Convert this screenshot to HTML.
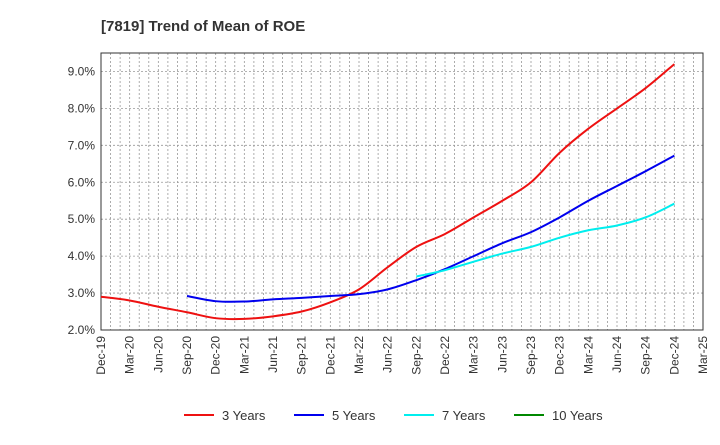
<!DOCTYPE html>
<html><head><meta charset="utf-8"><style>
body{margin:0;background:#fff;font-family:"Liberation Sans",sans-serif}
</style></head><body>
<svg id="c" width="720" height="440" xmlns="http://www.w3.org/2000/svg">
<text x="101" y="31" font-size="15" font-weight="bold" fill="#333">[7819]  Trend of Mean of ROE</text>
</svg>
<script>
const categories=["Dec-19","Mar-20","Jun-20","Sep-20","Dec-20","Mar-21","Jun-21","Sep-21","Dec-21","Mar-22","Jun-22","Sep-22","Dec-22","Mar-23","Jun-23","Sep-23","Dec-23","Mar-24","Jun-24","Sep-24","Dec-24","Mar-25"];
const yTicks=[2,3,4,5,6,7,8,9];
const s3=[2.9,2.8,2.63,2.48,2.32,2.3,2.37,2.5,2.75,3.1,3.7,4.25,4.6,5.05,5.5,6.0,6.8,7.45,8.0,8.55,9.2];
const s5=[null,null,null,2.92,2.78,2.77,2.83,2.87,2.92,2.97,3.1,3.35,3.65,4.0,4.35,4.65,5.05,5.5,5.9,6.3,6.72];
const s7=[null,null,null,null,null,null,null,null,null,null,null,3.45,3.62,3.85,4.07,4.25,4.5,4.7,4.83,5.05,5.42];
const s10=[];
const seriesNames=["3 Years","5 Years","7 Years","10 Years"];
const colors=["#ee1111","#0000ee","#00eeee","#008800"];
const NS="http://www.w3.org/2000/svg";
const svg=document.getElementById('c');
const L=101,R=703,T=53,B=330,yMin=2,yMax=9.5;
const xs=i=>L+(R-L)*i/(categories.length-1);
const ys=v=>B-(B-T)*(v-yMin)/(yMax-yMin);
function el(t,a){const e=document.createElementNS(NS,t);for(const k in a)e.setAttribute(k,a[k]);svg.appendChild(e);return e;}
const bg=el('rect',{x:L,y:T,width:R-L,height:B-T,fill:'#fff'});


for(let m=0;m<=(categories.length-1)*3;m++){
  const x=L+(R-L)*m/((categories.length-1)*3);
  const g=el('line',{x1:x,x2:x,y1:T,y2:B,stroke:'#999','stroke-width':0.8,'stroke-dasharray':'2,2'});
  
  
}
yTicks.forEach(v=>{
  const g=el('line',{x1:L,x2:R,y1:ys(v),y2:ys(v),stroke:'#999','stroke-width':0.8,'stroke-dasharray':'2,2'});
  
  
});
yTicks.forEach(v=>{
  const t=el('text',{x:L-6,y:ys(v)+4,'text-anchor':'end','font-size':12,fill:'#333'});
  t.textContent=v.toFixed(1)+'%';
  
  
});
categories.forEach((c,i)=>{
  const t=el('text',{transform:`translate(${xs(i)+4},${B+6}) rotate(-90)`,'text-anchor':'end','font-size':12,fill:'#333'});
  t.textContent=c;
  
  
});
const fr=el('rect',{x:L,y:T,width:R-L,height:B-T,fill:'none',stroke:'#333','stroke-width':1});


function path(arr){
  const p=[];arr.forEach((v,i)=>{if(v!=null)p.push([xs(i),ys(v)]);});
  if(p.length<2)return '';
  let d=`M${p[0][0]},${p[0][1]}`;
  for(let i=0;i<p.length-1;i++){
    const p0=p[i-1]||p[i],p1=p[i],p2=p[i+1],p3=p[i+2]||p2;
    const c1=[p1[0]+(p2[0]-p0[0])/6,p1[1]+(p2[1]-p0[1])/6];
    const c2=[p2[0]-(p3[0]-p1[0])/6,p2[1]-(p3[1]-p1[1])/6];
    d+=`C${c1[0]},${c1[1]} ${c2[0]},${c2[1]} ${p2[0]},${p2[1]}`;
  }
  return d;
}
[s3,s5,s7,s10].forEach((s,k)=>{
  const d=path(s);if(!d)return;
  const e=el('path',{d:d,fill:'none',stroke:colors[k],'stroke-width':2});
  
  
});
const lx=[184,294,404,514];
seriesNames.forEach((n,k)=>{
  const l=el('line',{x1:lx[k],x2:lx[k]+30,y1:415,y2:415,stroke:colors[k],'stroke-width':2});
  
  
  const t=el('text',{x:lx[k]+38,y:420,'font-size':13,fill:'#333'});
  t.textContent=n;
  
  
});
</script>
</body></html>
